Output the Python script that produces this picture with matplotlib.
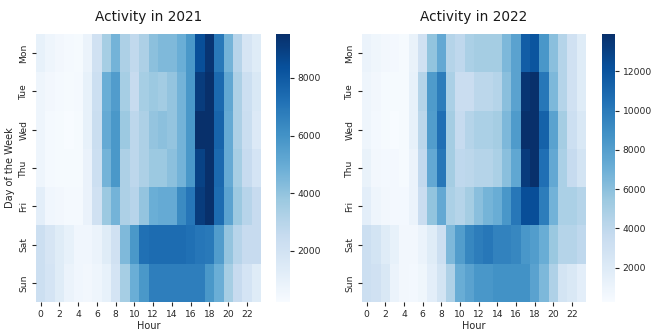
import numpy as np
import pandas as pd
import seaborn as sns
import matplotlib
matplotlib.use("Agg")
import matplotlib.pyplot as plt

days = ["Mon", "Tue", "Wed", "Thu", "Fri", "Sat", "Sun"]
hours = list(range(24))

# activity counts per day (rows) and hour (columns)
activity_2021 = [
    [950, 670, 480, 390, 290, 760, 2070, 3470, 4680, 3280, 2720, 3280, 4120, 4400, 4400, 4870, 5800, 8410, 9340, 6920, 4680, 3000, 1790, 1320],
    [670, 480, 390, 290, 390, 950, 2250, 4870, 5610, 3470, 2530, 3470, 3750, 3560, 3930, 4680, 5800, 9060, 9530, 7480, 5150, 3280, 2250, 1600],
    [670, 390, 290, 210, 290, 950, 2350, 5050, 5800, 3750, 2810, 3280, 3930, 4120, 3930, 4680, 5800, 9530, 9530, 7660, 5050, 3280, 2350, 1510],
    [670, 390, 290, 290, 290, 850, 2250, 4680, 5800, 3280, 2810, 3280, 3750, 3750, 4120, 4680, 5800, 8880, 9530, 7480, 5050, 3470, 2530, 1880],
    [1130, 570, 480, 390, 390, 850, 2070, 3750, 4680, 3280, 3000, 3930, 4870, 5050, 5050, 6270, 7010, 9060, 9530, 7380, 5330, 3750, 3000, 2530],
    [2250, 1790, 1320, 950, 570, 570, 760, 1320, 2070, 4400, 5800, 7200, 7380, 7380, 7380, 7380, 7200, 7010, 6920, 5610, 3930, 3000, 2530, 2530],
    [2250, 1880, 1320, 760, 570, 480, 670, 950, 1880, 3470, 4870, 5800, 6730, 6730, 6730, 6730, 6730, 6730, 5800, 4870, 3470, 2530, 1880, 1320],
]

activity_2022 = [
    [1080, 800, 660, 530, 390, 1210, 3000, 5750, 7400, 4380, 3960, 4790, 5060, 5060, 5060, 6440, 7810, 11530, 11940, 8500, 6030, 4380, 3000, 1900],
    [940, 660, 390, 390, 390, 1350, 4380, 8230, 9880, 4790, 3410, 3410, 4100, 4100, 4380, 6030, 7810, 13590, 13900, 10150, 6440, 4380, 3000, 1900],
    [940, 530, 390, 250, 390, 1350, 4100, 8090, 10560, 5060, 3690, 4380, 4790, 4790, 5060, 6440, 8230, 13900, 13900, 11250, 7810, 5060, 3280, 2310],
    [1210, 660, 530, 530, 390, 1080, 3830, 7400, 10150, 5060, 3960, 4100, 4380, 4380, 4790, 6030, 7540, 13310, 13900, 10560, 7400, 4790, 3690, 2730],
    [1630, 940, 660, 530, 530, 1080, 3410, 5750, 7400, 4790, 4380, 5060, 6030, 6710, 7130, 8500, 10150, 12350, 12350, 9880, 6850, 4790, 4790, 4380],
    [3280, 2730, 1900, 1350, 660, 660, 1080, 1900, 3280, 6440, 8090, 9330, 9880, 10150, 9600, 9600, 9330, 8500, 8090, 7130, 5480, 4380, 4380, 3960],
    [3280, 3000, 2310, 1080, 660, 530, 800, 1630, 2730, 4650, 7130, 7810, 8500, 8500, 8780, 8780, 8780, 8780, 7810, 6440, 4650, 2730, 2310, 1630],
]

fig = plt.figure(figsize=(6.54, 3.35), dpi=100)
W, H = 654, 335
txt = "0.15"

def box(x0, y0, x1, y1):
    return [x0 / W, 1 - y1 / H, (x1 - x0) / W, (y1 - y0) / H]

panels = [
    ("Activity in 2021", activity_2021, box(36, 34, 261, 302), box(276, 34, 290, 302), True),
    ("Activity in 2022", activity_2022, box(362, 34, 586, 302), box(602, 34, 615, 302), False),
]

for title, values, ax_box, cb_box, show_ylabel in panels:
    ax = fig.add_axes(ax_box)
    cax = fig.add_axes(cb_box)
    df = pd.DataFrame(values, index=days, columns=hours)
    sns.heatmap(df, cmap="Blues", ax=ax, cbar_ax=cax, xticklabels=2)
    ax.set_title(title, fontsize=9.8, pad=9, color="0.1")
    ax.set_xlabel("Hour", fontsize=7, color=txt, labelpad=2)
    ax.set_ylabel("Day of the Week" if show_ylabel else "", fontsize=7, color=txt, labelpad=3)
    ax.tick_params(axis="both", labelsize=6.6, length=3, pad=2.5, colors=txt)
    ax.set_yticklabels(days, rotation=90, va="center")
    ax.set_xticklabels(ax.get_xticklabels(), rotation=0)
    cax.yaxis.set_major_locator(matplotlib.ticker.MultipleLocator(2000))
    cax.tick_params(labelsize=6.6, length=3, pad=2.5, colors=txt)

fig.savefig("out.png", dpi=100)
